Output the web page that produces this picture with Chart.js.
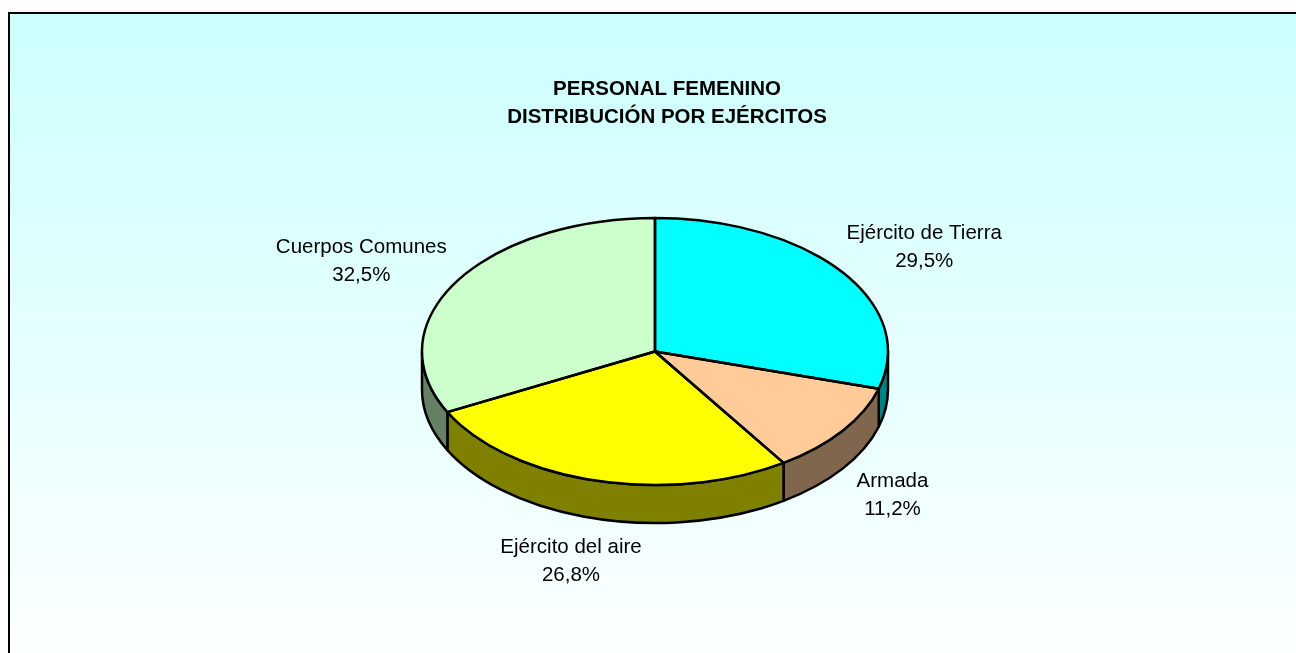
<!DOCTYPE html>
<html>
<head>
<meta charset="utf-8">
<title>Personal femenino - distribución por ejércitos</title>
<script src="https://cdn.jsdelivr.net/npm/chart.js@4.4.1/dist/chart.umd.min.js"></script>
<style>
  html, body { margin: 0; padding: 0; background: #fff; }
  canvas { display: block; }
</style>
</head>
<body>
<canvas id="pie" width="1296" height="653"></canvas>
<script>
// data
const categories = ["Ejército de Tierra", "Armada", "Ejército del aire", "Cuerpos Comunes"];
const shares = [29.5, 11.2, 26.8, 32.5];
const titleLines = ["PERSONAL FEMENINO", "DISTRIBUCIÓN POR EJÉRCITOS"];

// look
const topColors = ["#00FFFF", "#FFCC99", "#FFFF00", "#CCFFCC"];
const TILT = 0.573;   // height / width of the top face
const DEPTH = 0.163;  // wall height, share of the radius
const FONT = '"Liberation Sans", Arial, sans-serif';
const LINE = 27.5;
const EDGE = 2.5;

function darker(hex) {
  const n = parseInt(hex.slice(1), 16);
  const r = (n >> 16) & 255, g = (n >> 8) & 255, b = n & 255;
  return `rgb(${Math.round(r / 2)},${Math.round(g / 2)},${Math.round(b / 2)})`;
}

function arcs(chart) {
  return chart.getDatasetMeta(0).data.map(a =>
    a.getProps(["x", "y", "startAngle", "endAngle", "outerRadius"], true));
}

function pct(v) {
  return v.toFixed(1).replace(".", ",") + "%";
}

const pie3d = {
  id: "pie3d",
  beforeDraw(chart) {
    const ctx = chart.ctx;
    ctx.save();
    ctx.fillStyle = "#fff";
    ctx.fillRect(0, 0, chart.width, chart.height);
    const g = ctx.createLinearGradient(0, 13, 0, 690);
    g.addColorStop(0, "#CCFFFF");
    g.addColorStop(1, "#FFFFFF");
    ctx.fillStyle = g;
    ctx.fillRect(9, 13, chart.width - 9, chart.height - 13);
    ctx.strokeStyle = "#000";
    ctx.lineWidth = 2;
    ctx.beginPath();
    ctx.moveTo(9, chart.height);
    ctx.lineTo(9, 13);
    ctx.lineTo(chart.width, 13);
    ctx.stroke();
    ctx.restore();
  },
  beforeDatasetsDraw(chart) {
    const ctx = chart.ctx;
    const list = arcs(chart);
    // walls of the front half
    ctx.save();
    ctx.lineWidth = EDGE;
    ctx.strokeStyle = "#000";
    ctx.lineJoin = "round";
    list.forEach((a, i) => {
      const rx = a.outerRadius, ry = rx * TILT, d = rx * DEPTH;
      const s = Math.max(a.startAngle, 0), e = Math.min(a.endAngle, Math.PI);
      if (e <= s) return;
      ctx.beginPath();
      ctx.ellipse(a.x, a.y, rx, ry, 0, s, e);
      ctx.lineTo(a.x + rx * Math.cos(e), a.y + d + ry * Math.sin(e));
      ctx.ellipse(a.x, a.y + d, rx, ry, 0, e, s, true);
      ctx.closePath();
      ctx.fillStyle = darker(topColors[i]);
      ctx.fill();
      ctx.stroke();
    });
    ctx.restore();
    // squash the pie itself into the top face
    const a0 = list[0];
    ctx.save();
    ctx.translate(a0.x, a0.y);
    ctx.scale(1, TILT);
    ctx.translate(-a0.x, -a0.y);
  },
  afterDatasetsDraw(chart) {
    const ctx = chart.ctx;
    ctx.restore();
    const list = arcs(chart);
    ctx.save();
    ctx.lineWidth = EDGE;
    ctx.strokeStyle = "#000";
    ctx.lineJoin = "round";
    list.forEach(a => {
      const rx = a.outerRadius, ry = rx * TILT;
      ctx.beginPath();
      ctx.moveTo(a.x, a.y);
      ctx.ellipse(a.x, a.y, rx, ry, 0, a.startAngle, a.endAngle);
      ctx.closePath();
      ctx.stroke();
    });

    // labels outside each slice
    ctx.font = `20.5px ${FONT}`;
    ctx.fillStyle = "#000";
    ctx.textAlign = "center";
    ctx.textBaseline = "alphabetic";
    list.forEach((a, i) => {
      const rx = a.outerRadius, ry = rx * TILT, d = rx * DEPTH;
      const mid = (a.startAngle + a.endAngle) / 2;
      const c = Math.cos(mid), s = Math.sin(mid);
      const lines = [categories[i], pct(shares[i])];
      const w = Math.max(...lines.map(t => ctx.measureText(t).width));
      const h = LINE * 2;
      const px = a.x + rx * c;
      const py = a.y + ry * s + (s > 0 ? d : 0);
      const lx = px + c * (w / 2 + 26);
      const ly = py + s * (h / 2 + 15);
      ctx.fillText(lines[0], lx, ly - LINE / 2 + 7.3);
      ctx.fillText(lines[1], lx, ly + LINE / 2 + 7.3);
    });
    ctx.restore();
  },
  afterDraw(chart) {
    const ctx = chart.ctx;
    ctx.save();
    ctx.font = `bold 20.5px ${FONT}`;
    ctx.fillStyle = "#000";
    ctx.textAlign = "center";
    ctx.textBaseline = "alphabetic";
    ctx.fillText(titleLines[0], 667, 95);
    ctx.fillText(titleLines[1], 667, 123);
    ctx.restore();
  }
};

const chart = new Chart(document.getElementById("pie").getContext("2d"), {
  type: "pie",
  data: {
    labels: categories,
    datasets: [{
      data: shares,
      backgroundColor: topColors,
      borderWidth: 0
    }]
  },
  options: {
    responsive: false,
    devicePixelRatio: 1,
    animation: false,
    events: [],
    layout: { padding: { top: 118.5, bottom: 68.5, left: 422, right: 408 } },
    plugins: {
      legend: { display: false },
      title: { display: false },
      tooltip: { enabled: false }
    }
  },
  plugins: [pie3d]
});
</script>
</body>
</html>
